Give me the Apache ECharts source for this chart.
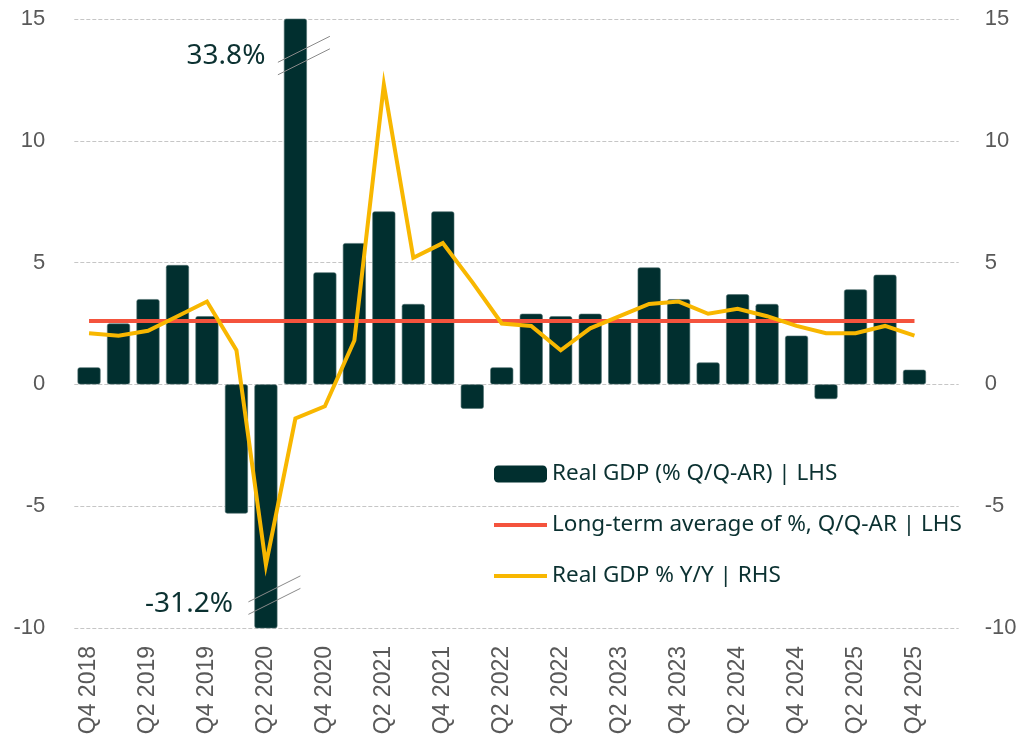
<!DOCTYPE html>
<html>
<head>
<meta charset="utf-8">
<script src="https://cdn.jsdelivr.net/npm/echarts@6/dist/echarts.min.js"></script>
<style>
  html, body { margin: 0; padding: 0; background: #ffffff; }
  #chart { width: 1023px; height: 745px; }
</style>
</head>
<body>
<div id="chart"></div>
<script>
// Quarterly US real GDP growth, Q4 2018 - Q4 2025
const quarters = [
  'Q4 2018', 'Q1 2019', 'Q2 2019', 'Q3 2019', 'Q4 2019',
  'Q1 2020', 'Q2 2020', 'Q3 2020', 'Q4 2020',
  'Q1 2021', 'Q2 2021', 'Q3 2021', 'Q4 2021',
  'Q1 2022', 'Q2 2022', 'Q3 2022', 'Q4 2022',
  'Q1 2023', 'Q2 2023', 'Q3 2023', 'Q4 2023',
  'Q1 2024', 'Q2 2024', 'Q3 2024', 'Q4 2024',
  'Q1 2025', 'Q2 2025', 'Q3 2025', 'Q4 2025'
];
// % Q/Q, annualised (left axis)
const gdpQoQ = [
  0.7, 2.5, 3.5, 4.9, 2.8,
  -5.3, -31.2, 33.8, 4.6,
  5.8, 7.1, 3.3, 7.1,
  -1.0, 0.7, 2.9, 2.8,
  2.9, 2.6, 4.8, 3.5,
  0.9, 3.7, 3.3, 2.0,
  -0.6, 3.9, 4.5, 0.6
];
// % Y/Y (right axis)
const gdpYoY = [
  2.1, 2.0, 2.2, 2.8, 3.4,
  1.4, -7.4, -1.4, -0.9,
  1.8, 12.3, 5.2, 5.8,
  4.2, 2.5, 2.4, 1.4,
  2.3, 2.8, 3.3, 3.4,
  2.9, 3.1, 2.8, 2.4,
  2.1, 2.1, 2.4, 2.0
];
// Long-term average of % Q/Q-AR
const longTermAverage = 2.6;
// Shared value-axis range on both sides
const axisMin = -10;
const axisMax = 15;
const axisStep = 5;

const names = {
  bars: 'Real GDP (% Q/Q-AR) | LHS',
  avg: 'Long-term average of %, Q/Q-AR | LHS',
  yoy: 'Real GDP % Y/Y | RHS'
};

const DARK = '#012f2f';
const RED = '#f4533d';
const YELLOW = '#f8b700';
const TEXT_DARK = '#0b3131';
const AXIS_TEXT = '#595959';
const AXIS_FONT = '"Liberation Sans", Arial, sans-serif';
const LABEL_FONT = '"Noto Sans", Lato, sans-serif';

const chart = echarts.init(document.getElementById('chart'), null, { renderer: 'canvas' });

// one spare band after the last quarter keeps the plot running past the final bar
const axisCategories = quarters.concat(['']);

const option = {
  animation: false,
  backgroundColor: '#ffffff',
  grid: { left: 74.3, right: 64.3, top: 19, bottom: 117, containLabel: false },
  legend: {
    orient: 'vertical',
    left: 492,
    top: 461.5,
    padding: 0,
    itemGap: 26,
    itemWidth: 53,
    itemHeight: 17,
    textStyle: { fontFamily: LABEL_FONT, fontSize: 22.5, lineHeight: 25, color: TEXT_DARK },
    data: [
      { name: names.bars, itemStyle: { borderWidth: 0 } },
      { name: names.avg, itemStyle: { opacity: 0 }, lineStyle: { width: 4, color: RED } },
      { name: names.yoy, itemStyle: { opacity: 0 }, lineStyle: { width: 4, color: YELLOW } }
    ]
  },
  xAxis: {
    type: 'category',
    data: axisCategories,
    boundaryGap: true,
    axisLine: { show: false },
    axisTick: { show: false },
    splitLine: { show: false },
    axisLabel: {
      interval: 1,
      rotate: 90,
      margin: 18,
      fontFamily: AXIS_FONT,
      fontSize: 23,
      color: AXIS_TEXT
    }
  },
  yAxis: [
    {
      type: 'value',
      min: axisMin, max: axisMax, interval: axisStep,
      axisLine: { show: false },
      axisTick: { show: false },
      axisLabel: { margin: 29, fontFamily: AXIS_FONT, fontSize: 22, color: AXIS_TEXT },
      splitLine: { show: true, lineStyle: { color: '#c6c6c6', type: [4, 2], width: 1 } }
    },
    {
      type: 'value',
      position: 'right',
      min: axisMin, max: axisMax, interval: axisStep,
      axisLine: { show: false },
      axisTick: { show: false },
      axisLabel: { margin: 26, fontFamily: AXIS_FONT, fontSize: 22, color: AXIS_TEXT },
      splitLine: { show: false }
    }
  ],
  series: [
    {
      name: names.bars,
      type: 'bar',
      yAxisIndex: 0,
      barWidth: 23,
      data: gdpQoQ,
      itemStyle: { color: DARK, borderRadius: 2, borderColor: '#4f6e6e', borderWidth: 0.6 },
      z: 2
    },
    {
      name: names.avg,
      type: 'line',
      yAxisIndex: 0,
      data: quarters.map(() => longTermAverage),
      symbol: 'none',
      lineStyle: { color: RED, width: 4 },
      itemStyle: { color: RED },
      z: 3
    },
    {
      name: names.yoy,
      type: 'line',
      yAxisIndex: 1,
      data: gdpYoY,
      symbol: 'none',
      lineStyle: { color: YELLOW, width: 4, join: 'miter' },
      itemStyle: { color: YELLOW },
      z: 4
    }
  ]
};

chart.setOption(option);

// Axis-break marks and value labels for bars that run off the value range
function drawBreaks() {
  const elements = [];
  gdpQoQ.forEach((v, i) => {
    if (v <= axisMax && v >= axisMin) return;
    const above = v > axisMax;
    const markAt = above ? axisMax - 1.5 : axisMin + 1.35;
    const textAt = above ? axisMax - 1.5 : axisMin + 1.0;
    const [bx, my] = chart.convertToPixel({ gridIndex: 0 }, [i, markAt]);
    const ty = chart.convertToPixel({ gridIndex: 0 }, [i, textAt])[1];
    const cx = bx + 8.5;
    [-6.25, 6.25].forEach(off => {
      elements.push({
        type: 'line',
        shape: { x1: cx - 26, y1: my + off + 13, x2: cx + 26, y2: my + off - 13 },
        style: { stroke: '#8a8a8a', lineWidth: 1 },
        z: 100
      });
    });
    elements.push({
      type: 'text',
      x: bx - (above ? 30 : 33),
      y: ty,
      style: {
        text: v.toFixed(1) + '%',
        align: 'right',
        verticalAlign: 'middle',
        fill: TEXT_DARK,
        font: '28px ' + LABEL_FONT
      },
      z: 100
    });
  });
  chart.setOption({ graphic: elements });
}
drawBreaks();
</script>
</body>
</html>
